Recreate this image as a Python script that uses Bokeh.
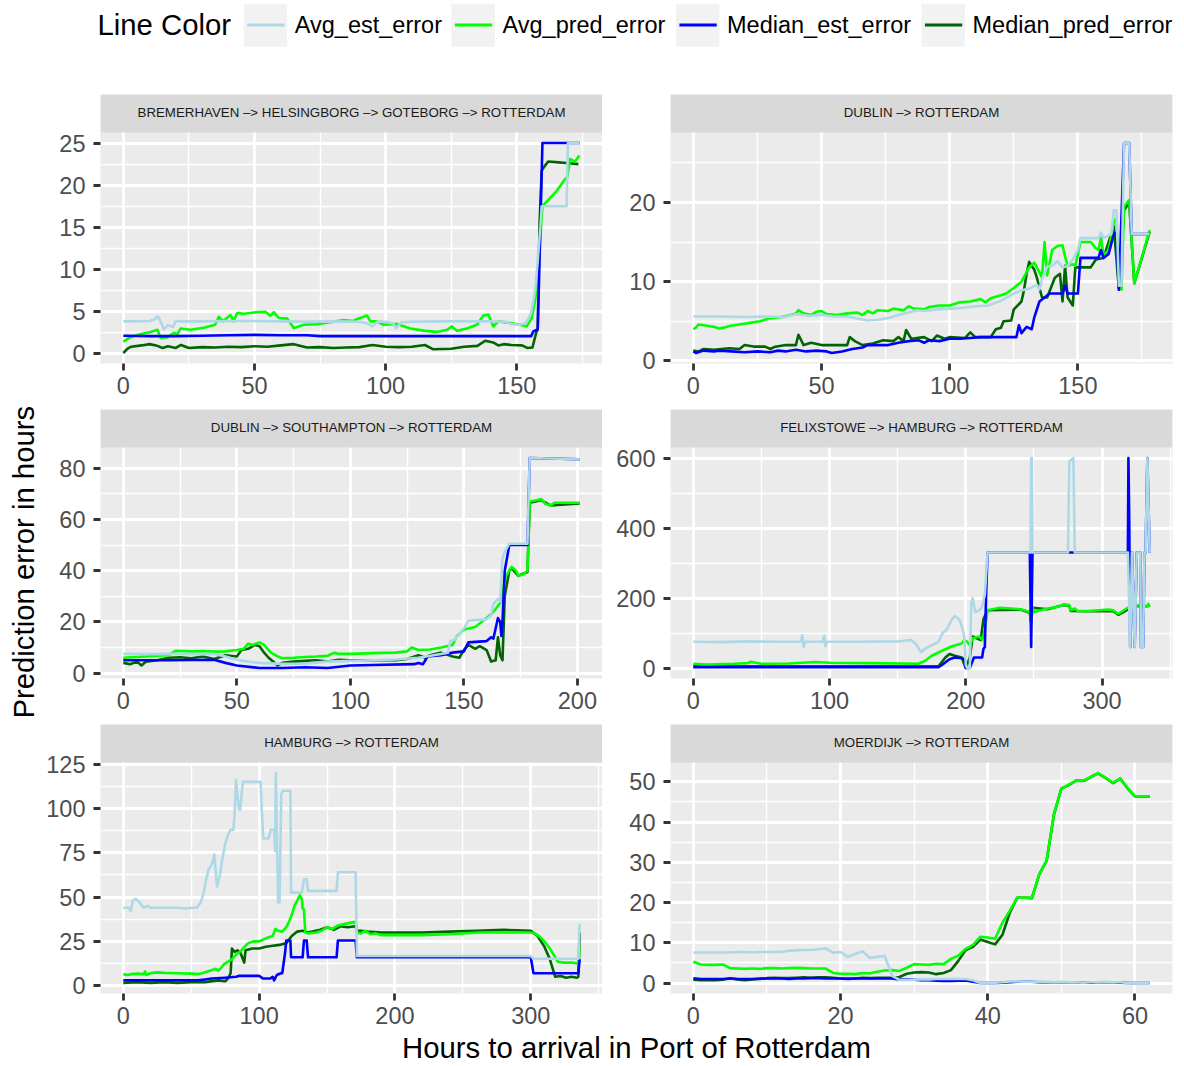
import math
from bokeh.plotting import figure
from bokeh.layouts import column, row
from bokeh.models import Range1d, FixedTicker
from bokeh.embed import file_html
from bokeh.resources import INLINE
from bokeh.core.properties import value

FONT = "Liberation Sans"

# ---------------- data ----------------
series_names = ["Avg_est_error", "Avg_pred_error", "Median_est_error", "Median_pred_error"]
series_colors = ["#ADD8E6", "#00FF00", "#0000FF", "#006400"]
panel_titles = ["BREMERHAVEN –> HELSINGBORG –> GOTEBORG –> ROTTERDAM",
                "DUBLIN –> ROTTERDAM",
                "DUBLIN –> SOUTHAMPTON –> ROTTERDAM",
                "FELIXSTOWE –> HAMBURG –> ROTTERDAM",
                "HAMBURG –> ROTTERDAM",
                "MOERDIJK –> ROTTERDAM"]

# Panel 1: BREMERHAVEN
b1_avg_est_x = [0, 5, 10, 12, 13, 14, 15.5, 17, 19, 20, 22, 30, 40, 50, 60, 70, 80, 90, 93, 95, 97, 100, 103, 104, 106, 110, 120, 130, 140, 146, 148, 151, 153, 154, 155.5, 157, 158, 159, 159.5, 169, 169.5, 174]
b1_avg_est_y = [3.85, 3.85, 3.9, 4.1, 4.45, 4.0, 2.9, 3.4, 3.2, 3.9, 3.85, 3.85, 3.9, 3.9, 3.85, 3.8, 3.85, 3.8, 3.6, 3.25, 3.85, 3.8, 3.6, 3.0, 3.75, 3.8, 3.85, 3.85, 3.85, 3.8, 3.5, 3.45, 3.6, 3.9, 4.8, 7.5, 11.0, 15.0, 17.5, 17.5, 25.0, 25.0]
b1_avg_pred_x = [0, 3, 6, 10.4, 13, 14.2, 16.8, 19.3, 20.6, 21.8, 25.6, 30.7, 35, 36.4, 38, 40.9, 42, 43.4, 46, 51, 54.2, 56, 57.4, 59.3, 62.4, 65, 68.8, 73.9, 78.9, 84, 87.8, 89, 92.9, 94.2, 96.7, 99.2, 104.3, 109.4, 114.5, 119.5, 123.4, 125.3, 127.2, 131, 134.8, 137.3, 139.2, 141.1, 143, 147.5, 151.3, 153.8, 155.7, 157.6, 158.9, 159.8, 165.2, 168.4, 169.3, 170.3, 172.2, 173.9]
b1_avg_pred_y = [1.45, 2.0, 2.3, 2.6, 2.85, 1.9, 1.95, 2.5, 2.3, 3.0, 2.85, 3.1, 3.45, 4.4, 3.85, 4.6, 3.85, 4.85, 4.75, 4.95, 5.0, 4.5, 4.95, 4.25, 4.2, 3.05, 3.45, 3.5, 3.75, 4.0, 3.9, 4.1, 4.55, 3.85, 3.85, 3.45, 3.55, 3.0, 2.75, 2.6, 2.85, 3.25, 2.75, 3.0, 3.45, 4.55, 4.65, 3.25, 3.85, 3.65, 3.45, 3.25, 4.2, 7.4, 13.4, 17.5, 19.3, 20.7, 21.0, 23.1, 22.8, 23.5]
b1_med_est_x = [0, 10, 20, 30, 40, 50, 60, 70, 75, 90, 110, 130, 150, 155.5, 156.3, 158, 158.6, 159.8, 174]
b1_med_est_y = [2.15, 2.1, 2.1, 2.15, 2.2, 2.25, 2.2, 2.2, 2.1, 2.1, 2.1, 2.1, 2.1, 2.1, 2.65, 2.9, 10.0, 25.0, 25.0]
b1_med_pred_x = [0, 1.5, 3, 7, 10, 12.5, 15, 17, 20, 22, 25, 30, 35, 40, 45, 50, 55, 60, 65, 70, 75, 80, 85, 90, 95, 100, 105, 110, 115, 118, 125, 130, 135, 138, 141, 143, 145, 148, 152, 154, 156, 157.5, 158, 158.7, 159.5, 160.5, 162, 166, 170, 173.5]
b1_med_pred_y = [0.1, 0.6, 0.85, 1.0, 1.15, 1.0, 0.7, 0.9, 0.7, 1.05, 0.7, 0.8, 0.75, 0.85, 0.8, 0.9, 0.85, 1.0, 1.15, 0.75, 0.8, 0.7, 0.75, 0.8, 1.05, 0.85, 0.8, 0.85, 1.05, 0.55, 0.6, 0.85, 0.95, 1.55, 1.35, 1.0, 1.15, 1.05, 1.0, 0.7, 0.75, 2.6, 2.9, 15.4, 21.7, 22.2, 22.8, 22.7, 22.6, 22.5]

# Panel 2: DUBLIN
d2_avg_est_x = [0, 10, 20, 30, 35, 40, 45, 50, 55, 60, 65, 68, 72, 76, 80, 84, 87, 90, 95, 100, 105, 110, 115, 120, 125, 128, 131, 134, 135, 136, 138, 140, 142, 144, 146, 148, 150, 151, 158, 159, 160, 163, 164, 165, 166, 167, 168, 170, 171, 178]
d2_avg_est_y = [5.6, 5.6, 5.55, 5.6, 5.5, 5.9, 5.7, 5.8, 5.6, 5.6, 5.3, 5.1, 5.2, 5.4, 5.8, 6.1, 6.4, 6.3, 6.5, 6.6, 6.7, 6.9, 7.0, 7.6, 8.5, 8.9, 9.1, 9.6, 9.0, 10.3, 11.9, 12.0, 12.6, 11.8, 12.0, 12.8, 14.0, 15.5, 15.5, 16.2, 15.5, 16.0, 19.0, 19.0, 9.5, 9.5, 27.5, 27.5, 16.0, 16.0]
d2_avg_pred_x = [0, 1, 2, 4, 6, 8, 10, 12, 14, 18, 22, 26, 30, 34, 38, 40, 41, 43, 46, 48, 50, 52, 56, 60, 64, 66, 68, 70, 72, 76, 78, 82, 84, 86, 90, 92, 96, 100, 104, 108, 112, 114, 116, 120, 122, 125, 128, 131, 133, 135, 136, 137, 138, 140, 142, 144, 145, 146, 148, 149, 150, 151, 155, 157, 158, 159, 160, 162, 164, 165, 166, 167, 168, 170, 172, 178]
d2_avg_pred_y = [4.0, 4.2, 4.6, 4.5, 4.4, 4.3, 4.1, 4.2, 4.4, 4.6, 4.8, 5.0, 5.4, 5.5, 5.8, 6.0, 6.4, 6.0, 5.8, 6.2, 6.3, 5.9, 5.8, 6.0, 6.1, 5.8, 6.3, 6.0, 6.4, 6.3, 6.6, 6.4, 6.9, 6.6, 6.5, 6.8, 7.0, 7.0, 7.4, 7.5, 7.8, 7.4, 7.9, 8.3, 8.5, 9.2, 10.0, 11.8, 12.4, 11.2, 10.5, 15.0, 10.8, 14.0, 14.5, 14.6, 13.2, 12.0, 12.2, 12.0, 13.5, 15.0, 15.0, 14.2, 14.0, 15.5, 13.3, 14.0, 17.5, 18.0, 9.5, 9.0, 19.5, 20.3, 9.8, 16.5]
d2_med_est_x = [0, 1, 4, 8, 10, 15, 20, 25, 30, 33, 36, 40, 44, 48, 52, 54, 58, 62, 66, 68, 76, 80, 84, 88, 90, 92, 96, 100, 104, 108, 112, 126, 127, 128, 130, 132, 133, 135, 137, 139, 144, 145, 146, 150, 151, 158, 159, 160, 162, 164, 165, 166, 168, 170, 171, 178]
d2_med_est_y = [1.2, 1.0, 1.3, 1.2, 1.3, 1.2, 1.1, 1.2, 1.1, 1.3, 1.2, 1.4, 1.2, 1.3, 1.2, 1.0, 1.2, 1.5, 1.7, 2.0, 2.0, 2.3, 2.5, 2.6, 2.3, 2.6, 2.5, 2.8, 2.8, 2.9, 3.0, 3.0, 4.5, 3.5, 4.3, 4.0, 5.5, 7.5, 8.0, 8.5, 8.5, 9.5, 8.5, 8.5, 13.0, 13.0, 14.0, 13.0, 13.5, 16.0, 16.2, 9.0, 27.5, 27.5, 16.0, 16.0]
d2_med_pred_x = [0, 2, 4, 8, 14, 18, 20, 24, 28, 30, 32, 36, 40, 41, 43, 46, 50, 60, 61, 63, 66, 70, 74, 78, 80, 82, 83, 85, 90, 93, 95, 98, 100, 106, 108, 110, 116, 118, 120, 121, 124, 125, 128, 129, 130, 131, 133, 134, 136, 138, 141, 143, 144, 145, 146, 148, 149, 155, 157, 160, 164, 166, 168, 170, 172, 178]
d2_med_pred_y = [1.3, 1.2, 1.5, 1.4, 1.6, 1.5, 2.0, 1.8, 1.8, 1.5, 1.8, 2.0, 2.0, 3.3, 2.0, 2.3, 2.0, 2.0, 3.0, 2.5, 2.0, 2.2, 2.6, 2.5, 3.0, 2.5, 3.9, 2.8, 3.0, 2.5, 3.2, 2.8, 3.0, 2.9, 3.6, 3.0, 3.0, 4.0, 4.2, 5.0, 5.1, 6.5, 7.5, 9.0, 11.0, 12.5, 11.5, 10.5, 8.0, 8.0, 10.5, 11.0, 7.5, 12.0, 8.0, 7.0, 11.8, 11.8, 12.8, 13.0, 17.0, 9.0, 19.0, 20.0, 9.8, 16.3]

# Panel 3: DUBLIN -> SOUTHAMPTON
s3_avg_est_x = [0, 10, 20, 30, 40, 45, 50, 55, 60, 65, 70, 80, 90, 100, 110, 120, 130, 140, 143, 144, 146, 150, 152, 160, 162, 163, 165, 166, 167, 168, 170, 178, 179, 201]
s3_avg_est_y = [7.5, 7.4, 7.5, 7.4, 7.5, 6.5, 5.2, 4.5, 4.0, 3.8, 3.6, 3.7, 4.5, 4.8, 5.0, 5.3, 6.0, 7.5, 8.0, 12.5, 13.0, 17.5, 20.5, 21.0, 22.5, 27.0, 29.0, 28.0, 45.0, 47.5, 50.5, 50.5, 84.0, 83.5]
s3_avg_pred_x = [0, 10, 20, 23, 30, 35, 40, 45, 50, 53, 55, 57, 60, 62, 65, 68, 70, 75, 80, 85, 90, 93, 95, 100, 110, 120, 125, 127, 130, 135, 140, 145, 147, 150, 155, 160, 162, 164, 166, 168, 170, 171, 173, 174, 176, 178, 179, 182, 184, 186, 188, 190, 201]
s3_avg_pred_y = [6.0, 6.5, 7.0, 8.7, 8.5, 8.6, 8.4, 8.5, 9.0, 9.5, 11.5, 11.0, 12.0, 11.0, 8.0, 6.5, 5.8, 6.0, 6.3, 6.5, 6.8, 8.0, 7.5, 7.5, 7.8, 8.0, 8.5, 10.0, 9.0, 9.2, 10.0, 11.0, 14.5, 17.0, 18.0, 21.5, 23.0, 25.0, 27.5, 37.0, 40.0, 41.5, 40.0, 38.0, 38.5, 40.0, 67.0, 67.5, 68.0, 66.0, 65.5, 66.5, 66.5]
s3_med_est_x = [0, 20, 40, 45, 50, 60, 70, 80, 90, 95, 100, 110, 128, 130, 132, 134, 140, 145, 150, 152, 160, 162, 163, 165, 166, 166.5, 167, 168, 170, 178, 179, 201]
s3_med_est_y = [5.0, 5.0, 5.2, 4.0, 3.0, 2.0, 2.0, 2.3, 2.0, 2.5, 3.0, 3.2, 3.5, 4.0, 3.5, 6.5, 7.0, 8.0, 8.5, 12.0, 12.5, 14.0, 13.5, 21.5, 20.0, 14.5, 20.0, 40.0, 50.0, 50.0, 84.0, 83.5]
s3_med_pred_x = [0, 3, 6, 8, 10, 15, 20, 25, 30, 35, 40, 45, 50, 52, 55, 58, 60, 62, 64, 66, 68, 70, 75, 80, 85, 90, 95, 100, 120, 125, 130, 133, 135, 140, 145, 148, 150, 152, 155, 157, 160, 162, 164, 165, 166, 167, 168, 169, 170, 171, 174, 178, 179, 184, 188, 201]
s3_med_pred_y = [4.0, 3.5, 4.5, 3.0, 4.5, 5.0, 6.0, 6.2, 5.8, 6.5, 5.5, 7.0, 6.5, 9.0, 9.5, 11.0, 10.5, 8.0, 6.0, 4.5, 3.0, 4.0, 4.5, 4.8, 5.0, 4.5, 5.2, 5.0, 5.0, 5.5, 7.0, 6.0, 7.0, 8.0, 6.5, 6.0, 9.0, 11.0, 9.5, 10.5, 9.0, 4.5, 5.0, 14.0, 7.0, 5.0, 30.0, 35.0, 40.0, 41.0, 38.0, 39.5, 66.5, 67.5, 65.5, 66.3]

# Panel 4: FELIXSTOWE -> HAMBURG
f4_avg_est_x = [0, 20, 40, 60, 79, 80, 81, 82, 95, 96, 97, 98, 120, 150, 155, 160, 163, 165, 167, 170, 175, 180, 183, 186, 188, 190, 192, 195, 197, 199, 200, 201, 203, 204, 205, 207, 210, 212, 214, 216, 247.5, 248, 248.5, 249, 249.5, 275, 276, 279, 280, 319, 320.7, 322, 324, 325.5, 328.1, 328.6, 330.2, 331.2, 332, 333.3, 335]
f4_avg_est_y = [75, 74, 76, 75, 75, 94, 60, 75, 75, 92, 62, 75, 75, 76, 78, 80, 70, 60, 45, 55, 65, 75, 100, 110, 125, 140, 148, 140, 120, 90, 10, 0, 0, 180, 200, 160, 165, 175, 210, 330, 330, 600, 600, 330, 330, 330, 590, 600, 330, 330, 60, 330, 60, 330, 330, 60, 60, 330, 330, 600, 330]
f4_avg_pred_x = [0, 10, 30, 40, 42, 50, 70, 90, 100, 130, 165, 170, 175, 183, 190, 197, 199, 201, 203, 205, 210, 212, 214, 216, 225, 240, 247, 248, 249, 250, 260, 268, 272, 276, 277, 280, 282, 290, 305, 308, 312, 318, 322, 330, 333, 334, 335]
f4_avg_pred_y = [12, 10, 12, 14, 18, 12, 13, 17, 15, 14, 12, 20, 35, 50, 62, 70, 80, 75, 65, 85, 90, 80, 110, 165, 172, 168, 160, 130, 175, 160, 170, 175, 182, 180, 165, 170, 163, 163, 167, 165, 155, 170, 180, 178, 175, 183, 175]
f4_med_est_x = [0, 60, 120, 180, 183, 188, 192, 197, 199, 200, 203, 206, 212, 213, 214, 215, 216, 247, 248, 249, 319, 319.4, 320, 320.7, 322, 324, 325.5, 328.1, 328.6, 330.2, 331.2, 332, 333.3, 335]
f4_med_est_y = [2, 2, 2, 2, 10, 25, 30, 28, 25, 0, 0, 30, 30, 55, 60, 220, 330, 330, 60, 330, 330, 600, 420, 60, 330, 60, 330, 330, 60, 60, 330, 330, 600, 330]
f4_med_pred_x = [0, 60, 120, 180, 185, 188, 192, 197, 200, 203, 205, 211, 213, 216, 240, 247, 248, 249, 260, 272, 276, 277, 290, 308, 312, 318, 322, 330, 335]
f4_med_pred_y = [5, 5, 5, 5, 30, 40, 35, 30, 0, 30, 90, 80, 140, 165, 167, 158, 130, 172, 168, 180, 178, 163, 162, 163, 152, 165, 178, 176, 178]

# Panel 5: HAMBURG
h5_avg_est_x = [0, 4, 5.5, 7, 9, 12, 15, 18, 20, 40, 45, 52, 54, 57, 59, 61, 63, 65, 67, 69, 71, 73, 75, 77, 79, 81, 82, 83, 85, 86, 88, 101, 103, 107, 108.5, 111, 111.8, 112.3, 113, 114, 115, 116.3, 117.6, 123, 123.5, 131.5, 133, 135, 136, 157, 158, 171, 172, 300, 302, 335, 336]
h5_avg_est_y = [44, 44, 42, 48, 49, 47, 44, 45, 44, 44, 43.5, 44, 44, 47, 52, 60, 66, 68, 74, 56, 62, 72, 80, 85, 88, 88, 98, 116, 100, 99, 115, 115, 83, 83, 88, 88, 76, 120, 90, 47, 47, 108, 110, 110, 52.5, 52.5, 60, 60, 53.5, 53.5, 64, 64, 16.7, 16.7, 15.2, 15.2, 35]
h5_avg_pred_x = [0, 3, 6, 10, 15, 16, 17, 20, 25, 30, 40, 50, 55, 58, 62, 66, 68, 70, 72, 74, 76, 80, 83, 87, 90, 92, 96, 100, 103, 106, 110, 112, 114, 117, 120, 122, 124, 126, 128, 130, 131.5, 132, 133, 134, 136, 142, 146, 150, 154, 158, 164, 171, 172, 175, 178, 182, 186, 190, 200, 220, 240, 262, 300, 303, 306, 310, 314, 318, 320, 324, 330, 335, 336]
h5_avg_pred_y = [6.5, 6.0, 6.5, 6.8, 6.5, 8.0, 6.0, 7.0, 7.5, 7.2, 7.0, 6.8, 6.5, 7.0, 8.0, 9.0, 9.5, 8.5, 10.0, 12.0, 13.0, 15.0, 17.5, 20.0, 22.5, 24.0, 25.0, 25.0, 26.0, 27.0, 28.0, 32.0, 31.0, 30.5, 33.0, 36.0, 40.0, 45.0, 48.0, 51.0, 49.0, 43.5, 43.0, 30.0, 29.5, 30.0, 31.0, 33.0, 32.0, 34.0, 35.0, 36.0, 30.0, 29.5, 31.0, 29.0, 29.5, 28.5, 28.5, 28.5, 29.0, 30.0, 30.0, 29.5, 28.0, 25.0, 21.0, 16.0, 13.5, 13.0, 13.0, 12.5, 22.0]
h5_med_est_x = [0, 55, 60, 65, 75, 83, 85, 100, 103, 108, 110, 111, 113, 116, 117, 119, 120, 123, 123.5, 132, 133, 135, 136, 157, 158, 171, 172, 300, 302, 335, 336]
h5_med_est_y = [3.0, 3.0, 3.5, 4.0, 4.5, 5.0, 5.5, 5.5, 4.0, 4.0, 5.0, 3.0, 6.0, 7.0, 7.0, 18.0, 25.5, 25.5, 16.0, 16.0, 25.5, 25.5, 16.0, 16.0, 25.5, 25.5, 16.0, 16.0, 7.0, 7.0, 15.0]
h5_med_pred_x = [0, 10, 20, 30, 40, 50, 60, 70, 75, 77, 79, 80, 82, 84, 86, 89, 90, 95, 100, 105, 110, 115, 120, 124, 128, 132, 136, 145, 150, 155, 160, 165, 171, 172, 175, 180, 190, 220, 240, 260, 280, 300, 305, 310, 314, 318, 322, 326, 330, 334, 335, 336]
h5_med_pred_y = [1.5, 2.0, 1.5, 2.0, 1.5, 2.0, 2.0, 3.0, 2.5, 4.0, 7.0, 21.0, 19.0, 20.0, 19.0, 13.0, 20.0, 21.0, 21.0, 22.0, 22.5, 23.0, 24.0, 28.0, 30.5, 31.0, 30.0, 31.5, 33.0, 31.5, 33.5, 33.0, 33.5, 31.0, 31.0, 30.5, 30.0, 30.0, 30.5, 31.0, 31.5, 31.0, 28.0, 22.0, 15.0, 5.0, 5.5, 4.5, 5.0, 4.5, 5.0, 30.0]

# Panel 6: MOERDIJK (hourly)
m6_hours = list(range(0, 63))
m6_avg_est_y = [7.6, 7.6, 7.6, 7.6, 7.6, 7.6, 7.7, 7.7, 7.6, 7.7, 7.7, 7.7, 7.7, 8.0, 8.1, 8.2, 8.2, 8.4, 8.6, 7.5, 7.7, 6.5, 7.2, 7.9, 6.2, 6.5, 6.7, 1.8, 0.8, 0.8, 0.8, 0.9, 0.9, 1.0, 1.0, 1.0, 1.0, 1.0, 0.7, 0.0, 0.0, 0.1, 0.2, 0.4, 0.4, 0.3, 0.3, 0.4, 0.3, 0.2, 0.3, 0.2, 0.2, 0.1, 0.2, 0.2, 0.3, 0.2, 0.2, 0.0, 0.0, 0.0, 0.0]
m6_avg_pred_y = [5.3, 4.6, 4.5, 4.5, 4.6, 3.7, 3.6, 3.5, 3.6, 3.5, 3.7, 3.7, 3.6, 3.7, 3.8, 3.7, 3.6, 3.6, 3.6, 2.5, 2.3, 2.3, 2.2, 2.5, 2.4, 2.8, 3.1, 3.2, 3.0, 3.8, 4.7, 4.6, 4.5, 4.8, 4.7, 6.0, 6.8, 8.5, 9.5, 11.5, 11.3, 11.0, 15.0, 18.0, 21.2, 21.2, 21.2, 27.0, 30.5, 42.0, 48.3, 49.3, 50.3, 50.3, 51.2, 52.2, 51.0, 49.8, 50.8, 48.5, 46.4, 46.4, 46.4]
m6_med_est_y = [1.2, 1.0, 1.0, 1.0, 1.0, 1.1, 1.0, 1.0, 1.0, 1.1, 1.1, 1.1, 1.1, 1.0, 1.1, 1.1, 1.2, 1.2, 1.1, 1.1, 1.1, 1.0, 1.1, 1.1, 1.1, 1.1, 1.1, 1.1, 0.9, 0.9, 0.8, 0.7, 0.7, 0.6, 0.5, 0.5, 0.6, 0.6, 0.3, 0.0, 0.0, 0.0, 0.1, 0.2, 0.3, 0.3, 0.3, 0.2, 0.2, 0.2, 0.2, 0.2, 0.2, 0.1, 0.1, 0.2, 0.2, 0.2, 0.1, 0.0, 0.0, 0.0, 0.0]
m6_med_pred_y = [0.8, 0.7, 0.7, 0.7, 0.8, 1.2, 0.9, 0.7, 0.9, 1.0, 1.2, 1.3, 1.2, 1.2, 1.3, 1.4, 1.3, 1.4, 1.4, 1.3, 1.1, 1.1, 1.1, 1.3, 1.2, 1.3, 1.3, 1.3, 1.5, 2.3, 2.6, 2.7, 2.6, 2.2, 2.5, 3.2, 5.5, 8.2, 9.0, 10.8, 10.2, 9.6, 12.0, 17.5, 21.2, 21.2, 21.1, 27.0, 30.4, 41.9, 48.3, 49.2, 50.3, 50.2, 51.2, 52.1, 51.0, 49.7, 50.8, 48.4, 46.4, 46.3, 46.4]

# tick breaks per panel
p1_xticks, p1_yticks = [0, 50, 100, 150], [0, 5, 10, 15, 20, 25]
p2_xticks, p2_yticks = [0, 50, 100, 150], [0, 10, 20]
p3_xticks, p3_yticks = [0, 50, 100, 150, 200], [0, 20, 40, 60, 80]
p4_xticks, p4_yticks = [0, 100, 200, 300], [0, 200, 400, 600]
p5_xticks, p5_yticks = [0, 100, 200, 300], [0, 25, 50, 75, 100, 125]
p6_xticks, p6_yticks = [0, 20, 40, 60], [0, 10, 20, 30, 40, 50]

panel_series = [
    [(b1_avg_est_x, b1_avg_est_y), (b1_avg_pred_x, b1_avg_pred_y), (b1_med_est_x, b1_med_est_y), (b1_med_pred_x, b1_med_pred_y)],
    [(d2_avg_est_x, d2_avg_est_y), (d2_avg_pred_x, d2_avg_pred_y), (d2_med_est_x, d2_med_est_y), (d2_med_pred_x, d2_med_pred_y)],
    [(s3_avg_est_x, s3_avg_est_y), (s3_avg_pred_x, s3_avg_pred_y), (s3_med_est_x, s3_med_est_y), (s3_med_pred_x, s3_med_pred_y)],
    [(f4_avg_est_x, f4_avg_est_y), (f4_avg_pred_x, f4_avg_pred_y), (f4_med_est_x, f4_med_est_y), (f4_med_pred_x, f4_med_pred_y)],
    [(h5_avg_est_x, h5_avg_est_y), (h5_avg_pred_x, h5_avg_pred_y), (h5_med_est_x, h5_med_est_y), (h5_med_pred_x, h5_med_pred_y)],
    [(m6_hours, m6_avg_est_y), (m6_hours, m6_avg_pred_y), (m6_hours, m6_med_est_y), (m6_hours, m6_med_pred_y)],
]
panel_ticks = [(p1_xticks, p1_yticks), (p2_xticks, p2_yticks), (p3_xticks, p3_yticks),
               (p4_xticks, p4_yticks), (p5_xticks, p5_yticks), (p6_xticks, p6_yticks)]

# ---------------- style / layout ----------------
PAGE_W, PAGE_H = 1184, 1066
FRAME_W, FRAME_H, STRIP_H = 502, 231, 38
DRAW_ORDER = [3, 1, 2, 0]   # Median_pred, Avg_pred, Median_est, Avg_est
LINE_W = 2.6
TICK_PX, TITLE_PX, STRIP_PX = 23.5, 29.3, 13.3
BASE_SHIFT = 0.38          # rendered alphabetic baseline sits ~0.38em lower than requested


def fs(px):
    return "%.1fpx" % px


def padded(vals):
    lo, hi = min(vals), max(vals)
    d = (hi - lo) * 0.05
    return lo - d, hi + d


def minors(ticks, lo, hi):
    step = ticks[1] - ticks[0]
    cands = [ticks[0] - step / 2] + [t + step / 2 for t in ticks]
    return [c for c in cands if lo <= c <= hi]


def style_axis(ax, ticker, standoff):
    ax.ticker = ticker
    ax.axis_line_color = None
    ax.major_tick_in = 0
    ax.major_tick_out = 7
    ax.major_tick_line_color = "#333333"
    ax.major_tick_line_width = 2.8
    ax.minor_tick_line_color = None
    ax.major_label_text_font = FONT
    ax.major_label_text_font_size = fs(TICK_PX)
    ax.major_label_text_color = "#4D4D4D"
    ax.major_label_standoff = standoff


def make_panel(idx, left_b, right_b, bottom_b):
    """One figure per facet: the top STRIP_H pixels of its frame hold the strip."""
    series = panel_series[idx]
    xt, yt = panel_ticks[idx]
    allx = [v for s in series for v in s[0]]
    ally = [v for s in series for v in s[1]]
    x0, x1 = padded(allx)
    y0, y1 = padded(ally)
    upp = (y1 - y0) / FRAME_H            # data units per pixel
    ytop = y1 + STRIP_H * upp
    p = figure(frame_width=FRAME_W, frame_height=FRAME_H + STRIP_H,
               x_range=Range1d(x0, x1), y_range=Range1d(y0, ytop),
               output_backend="svg", toolbar_location=None,
               min_border=0, min_border_left=left_b, min_border_right=right_b,
               min_border_top=0, min_border_bottom=bottom_b)
    p.background_fill_color = "#EBEBEB"
    p.border_fill_color = "white"
    p.outline_line_color = None
    xtk = FixedTicker(ticks=xt, minor_ticks=minors(xt, x0, x1))
    ytk = FixedTicker(ticks=yt, minor_ticks=minors(yt, y0, y1))
    style_axis(p.xaxis[0], xtk, 6)
    style_axis(p.yaxis[0], ytk, 8)
    for g, tk in ((p.xgrid[0], xtk), (p.ygrid[0], ytk)):
        g.ticker = tk
        g.grid_line_color = "white"
        g.grid_line_width = 2.8
        g.minor_grid_line_color = "white"
        g.minor_grid_line_width = 1.4
    for k in DRAW_ORDER:
        xs, ys = series[k]
        n = min(len(xs), len(ys))
        p.line(xs[:n], ys[:n], line_color=series_colors[k], line_width=LINE_W, line_join="round")
    # strip
    p.quad(left=[x0], right=[x1], bottom=[y1], top=[ytop], fill_color="#D9D9D9", line_color=None)
    p.text(x=[(x0 + x1) / 2], y=[y1 + (STRIP_H - 22.8 + BASE_SHIFT * STRIP_PX) * upp],
           text=[panel_titles[idx]], text_align="center", text_baseline="alphabetic",
           text_font=value(FONT), text_font_size=fs(STRIP_PX), text_color="#1A1A1A")
    return p


LEG_H, YT_W = 94, 40
LEFT_B, RIGHT_LB = 60, 68
RIGHT_RB = PAGE_W - YT_W - (LEFT_B + FRAME_W) - (RIGHT_LB + FRAME_W)

rows = []
for r in range(3):
    bottom = 46 if r < 2 else 38
    left = make_panel(2 * r, LEFT_B, 0, bottom)
    right = make_panel(2 * r + 1, RIGHT_LB, RIGHT_RB, bottom)
    rows.append(row(left, right))
grid = column(*rows)
GRID_H = 3 * (STRIP_H + FRAME_H) + 46 + 46 + 38


def blank(w, h, yflip=True):
    f = figure(frame_width=w, frame_height=h, x_range=Range1d(0, w),
               y_range=Range1d(h, 0) if yflip else Range1d(0, h),
               x_axis_type=None, y_axis_type=None,
               output_backend="svg", toolbar_location=None, min_border=0,
               min_border_left=0, min_border_right=0, min_border_top=0, min_border_bottom=0)
    f.outline_line_color = None
    f.background_fill_color = "white"
    f.border_fill_color = "white"
    return f


# legend (top)
leg = blank(PAGE_W, LEG_H)
leg.text(x=[97], y=[35.1 - BASE_SHIFT * TITLE_PX], text=["Line Color"], text_align="left",
         text_baseline="alphabetic", text_font=value(FONT), text_font_size=fs(TITLE_PX),
         text_color="black")
key_left = [243.3, 451.0, 675.5, 921.0]
leg.quad(left=key_left, right=[k + 43.4 for k in key_left], top=[3.3] * 4, bottom=[46.3] * 4,
         fill_color="#F2F2F2", line_color=None)
leg.segment(x0=[k + 3.4 for k in key_left], x1=[k + 40.7 for k in key_left],
            y0=[24.5] * 4, y1=[24.5] * 4, line_color=series_colors, line_width=2.8)
leg.text(x=[k + 51 for k in key_left], y=[33.3 - BASE_SHIFT * TICK_PX] * 4, text=series_names,
         text_align="left", text_baseline="alphabetic", text_font=value(FONT),
         text_font_size=fs(TICK_PX), text_color="black")

# y-axis title (normal y range, rotated text)
yt_fig = blank(YT_W, GRID_H, yflip=False)
yt_fig.text(x=[34.5 - BASE_SHIFT * TITLE_PX], y=[GRID_H - (561.7 - LEG_H)],
            text=["Prediction error in hours"], angle=math.pi / 2,
            text_align="center", text_baseline="alphabetic", text_font=value(FONT),
            text_font_size=fs(TITLE_PX), text_color="black")

# x-axis title
XT_H = PAGE_H - LEG_H - GRID_H
xt_fig = blank(PAGE_W, XT_H)
xt_fig.text(x=[636], y=[1058.3 - (LEG_H + GRID_H) - BASE_SHIFT * TITLE_PX],
            text=["Hours to arrival in Port of Rotterdam"],
            text_align="center", text_baseline="alphabetic", text_font=value(FONT),
            text_font_size=fs(TITLE_PX), text_color="black")

page = column(leg, row(yt_fig, grid), xt_fig)

with open("out.html", "w") as fh:
    fh.write(file_html(page, INLINE))
